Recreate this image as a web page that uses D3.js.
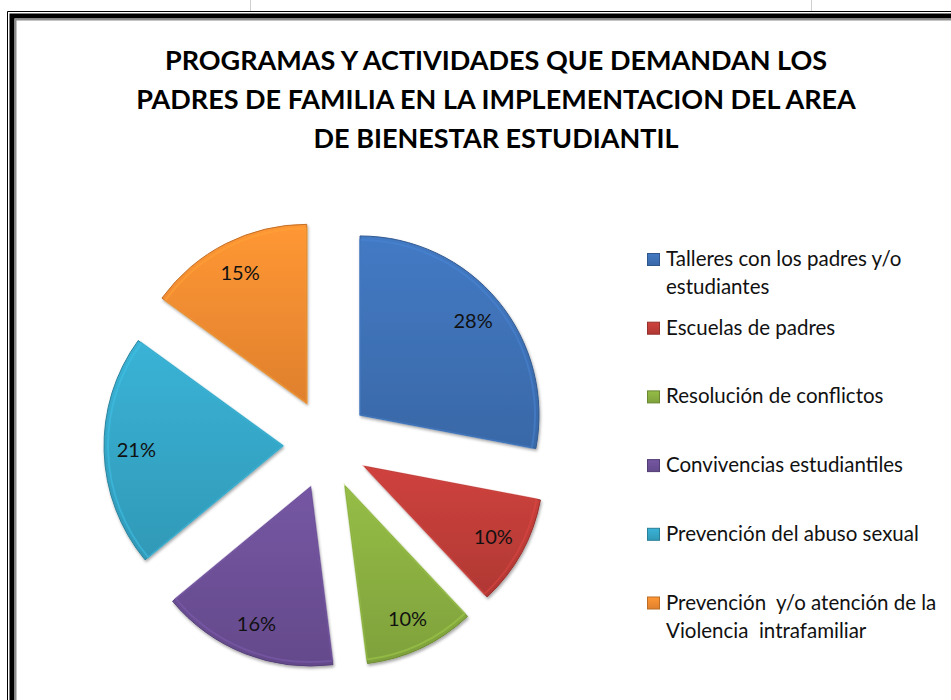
<!DOCTYPE html>
<html>
<head>
<meta charset="utf-8">
<script src="https://cdn.jsdelivr.net/npm/d3@7"></script>
<style>
  body { margin: 0; background: #fff; }
  svg { display: block; }
  text { font-family: Lato, "Open Sans", sans-serif; }
</style>
</head>
<body>
<div id="chart"></div>
<script>
const titleLines = [
  'PROGRAMAS Y ACTIVIDADES QUE DEMANDAN LOS',
  'PADRES DE FAMILIA EN LA IMPLEMENTACION DEL AREA',
  'DE BIENESTAR ESTUDIANTIL',
];
const categories = [
  'Talleres con los padres y/o\nestudiantes',
  'Escuelas de padres',
  'Resolución de conflictos',
  'Convivencias estudiantiles',
  'Prevención del abuso sexual',
  'Prevención  y/o atención de la\nViolencia  intrafamiliar',
];
const values = [28, 10, 10, 16, 21, 15];
const colors = ['#3d70b3', '#bd3c38', '#88ad40', '#6b4f95', '#35a4c4', '#f08a30'];

const width = 951;
const height = 700;
const center = { x: 326.5, y: 444.3 };
const radius = 179;
const explode = { x: 43.5, y: 46 };

const svg = d3.select('#chart')
  .append('svg')
  .attr('width', width)
  .attr('height', height);

const defs = svg.append('defs');

colors.forEach((c, i) => {
  const g = defs.append('linearGradient')
    .attr('id', `grad${i}`)
    .attr('x1', 0).attr('y1', 0).attr('x2', 0).attr('y2', 1);
  g.append('stop').attr('offset', '0%').attr('stop-color', d3.color(c).brighter(0.25));
  g.append('stop').attr('offset', '100%').attr('stop-color', d3.color(c).darker(0.2));
});

const shadow = defs.append('filter')
  .attr('id', 'shadow')
  .attr('x', '-20%').attr('y', '-20%').attr('width', '140%').attr('height', '140%');
shadow.append('feDropShadow')
  .attr('dx', 1).attr('dy', 2)
  .attr('stdDeviation', 1.5)
  .attr('flood-color', '#000')
  .attr('flood-opacity', 0.35);

// frame (the chart area border, runs off the right and bottom edges)
const frame = svg.append('g').attr('fill', 'none');
frame.append('path')
  .attr('d', `M7.5,${height + 10}V11.5H${width + 10}`)
  .attr('stroke', '#000').attr('stroke-width', 1);
frame.append('path')
  .attr('d', `M12,${height + 10}V16H${width + 10}`)
  .attr('stroke', '#000').attr('stroke-width', 5);
frame.append('path')
  .attr('d', `M15.5,${height + 10}V19.5H${width + 10}`)
  .attr('stroke', '#8c8c8c').attr('stroke-width', 2);
[250.5, 811.5].forEach(x => {
  frame.append('line')
    .attr('x1', x).attr('x2', x).attr('y1', 0).attr('y2', 11)
    .attr('stroke', '#d0d0d0');
});

// title
svg.append('g')
  .selectAll('text')
  .data(titleLines)
  .join('text')
  .attr('x', 496)
  .attr('y', (d, i) => 70 + i * 39)
  .attr('text-anchor', 'middle')
  .attr('font-size', 27)
  .attr('font-weight', 'bold')
  .attr('fill', '#000')
  .text(d => d);

// pie
const pie = d3.pie().sort(null).value(d => d);
const arcs = pie(values);
const arc = d3.arc().innerRadius(0).outerRadius(radius);
const labelArc = d3.arc().innerRadius(radius * 0.82).outerRadius(radius * 0.82);

const offset = d => {
  const mid = (d.startAngle + d.endAngle) / 2;
  return [Math.sin(mid) * explode.x, -Math.cos(mid) * explode.y];
};

const slices = svg.append('g')
  .attr('transform', `translate(${center.x}, ${center.y})`)
  .selectAll('g')
  .data(arcs)
  .join('g')
  .attr('transform', d => `translate(${offset(d)})`);

slices.append('path')
  .attr('d', arc)
  .attr('fill', (d, i) => `url(#grad${i})`)
  .attr('stroke', (d, i) => d3.color(colors[i]).darker(0.6))
  .attr('stroke-width', 1)
  .attr('filter', 'url(#shadow)');

slices.append('path')
  .attr('d', d3.arc().innerRadius(0).outerRadius(radius - 4))
  .attr('fill', 'none')
  .attr('stroke', (d, i) => d3.color(colors[i]).brighter(0.5))
  .attr('stroke-opacity', 0.5)
  .attr('stroke-width', 2);

slices.append('text')
  .attr('transform', d => `translate(${labelArc.centroid(d)})`)
  .attr('text-anchor', 'middle')
  .attr('dy', '0.35em')
  .attr('font-size', 20)
  .attr('fill', '#111')
  .text(d => `${d.data}%`);

// legend
const legendY = d3.scaleLinear().domain([0, 1]).range([259, 327.7]);

const legend = svg.append('g')
  .selectAll('g')
  .data(categories)
  .join('g')
  .attr('transform', (d, i) => `translate(647, ${legendY(i)})`);

legend.append('rect')
  .attr('x', 0.5).attr('y', -5.5)
  .attr('width', 12).attr('height', 12)
  .attr('fill', (d, i) => `url(#grad${i})`)
  .attr('stroke', (d, i) => d3.color(colors[i]).darker(0.7));

legend.append('text')
  .attr('x', 19)
  .attr('y', 7)
  .attr('font-size', 20.5)
  .attr('fill', '#111')
  .style('white-space', 'pre')
  .selectAll('tspan')
  .data(d => d.split('\n'))
  .join('tspan')
  .attr('x', 19)
  .attr('dy', (d, i) => i === 0 ? 0 : 28)
  .text(d => d);
</script>
</body>
</html>
